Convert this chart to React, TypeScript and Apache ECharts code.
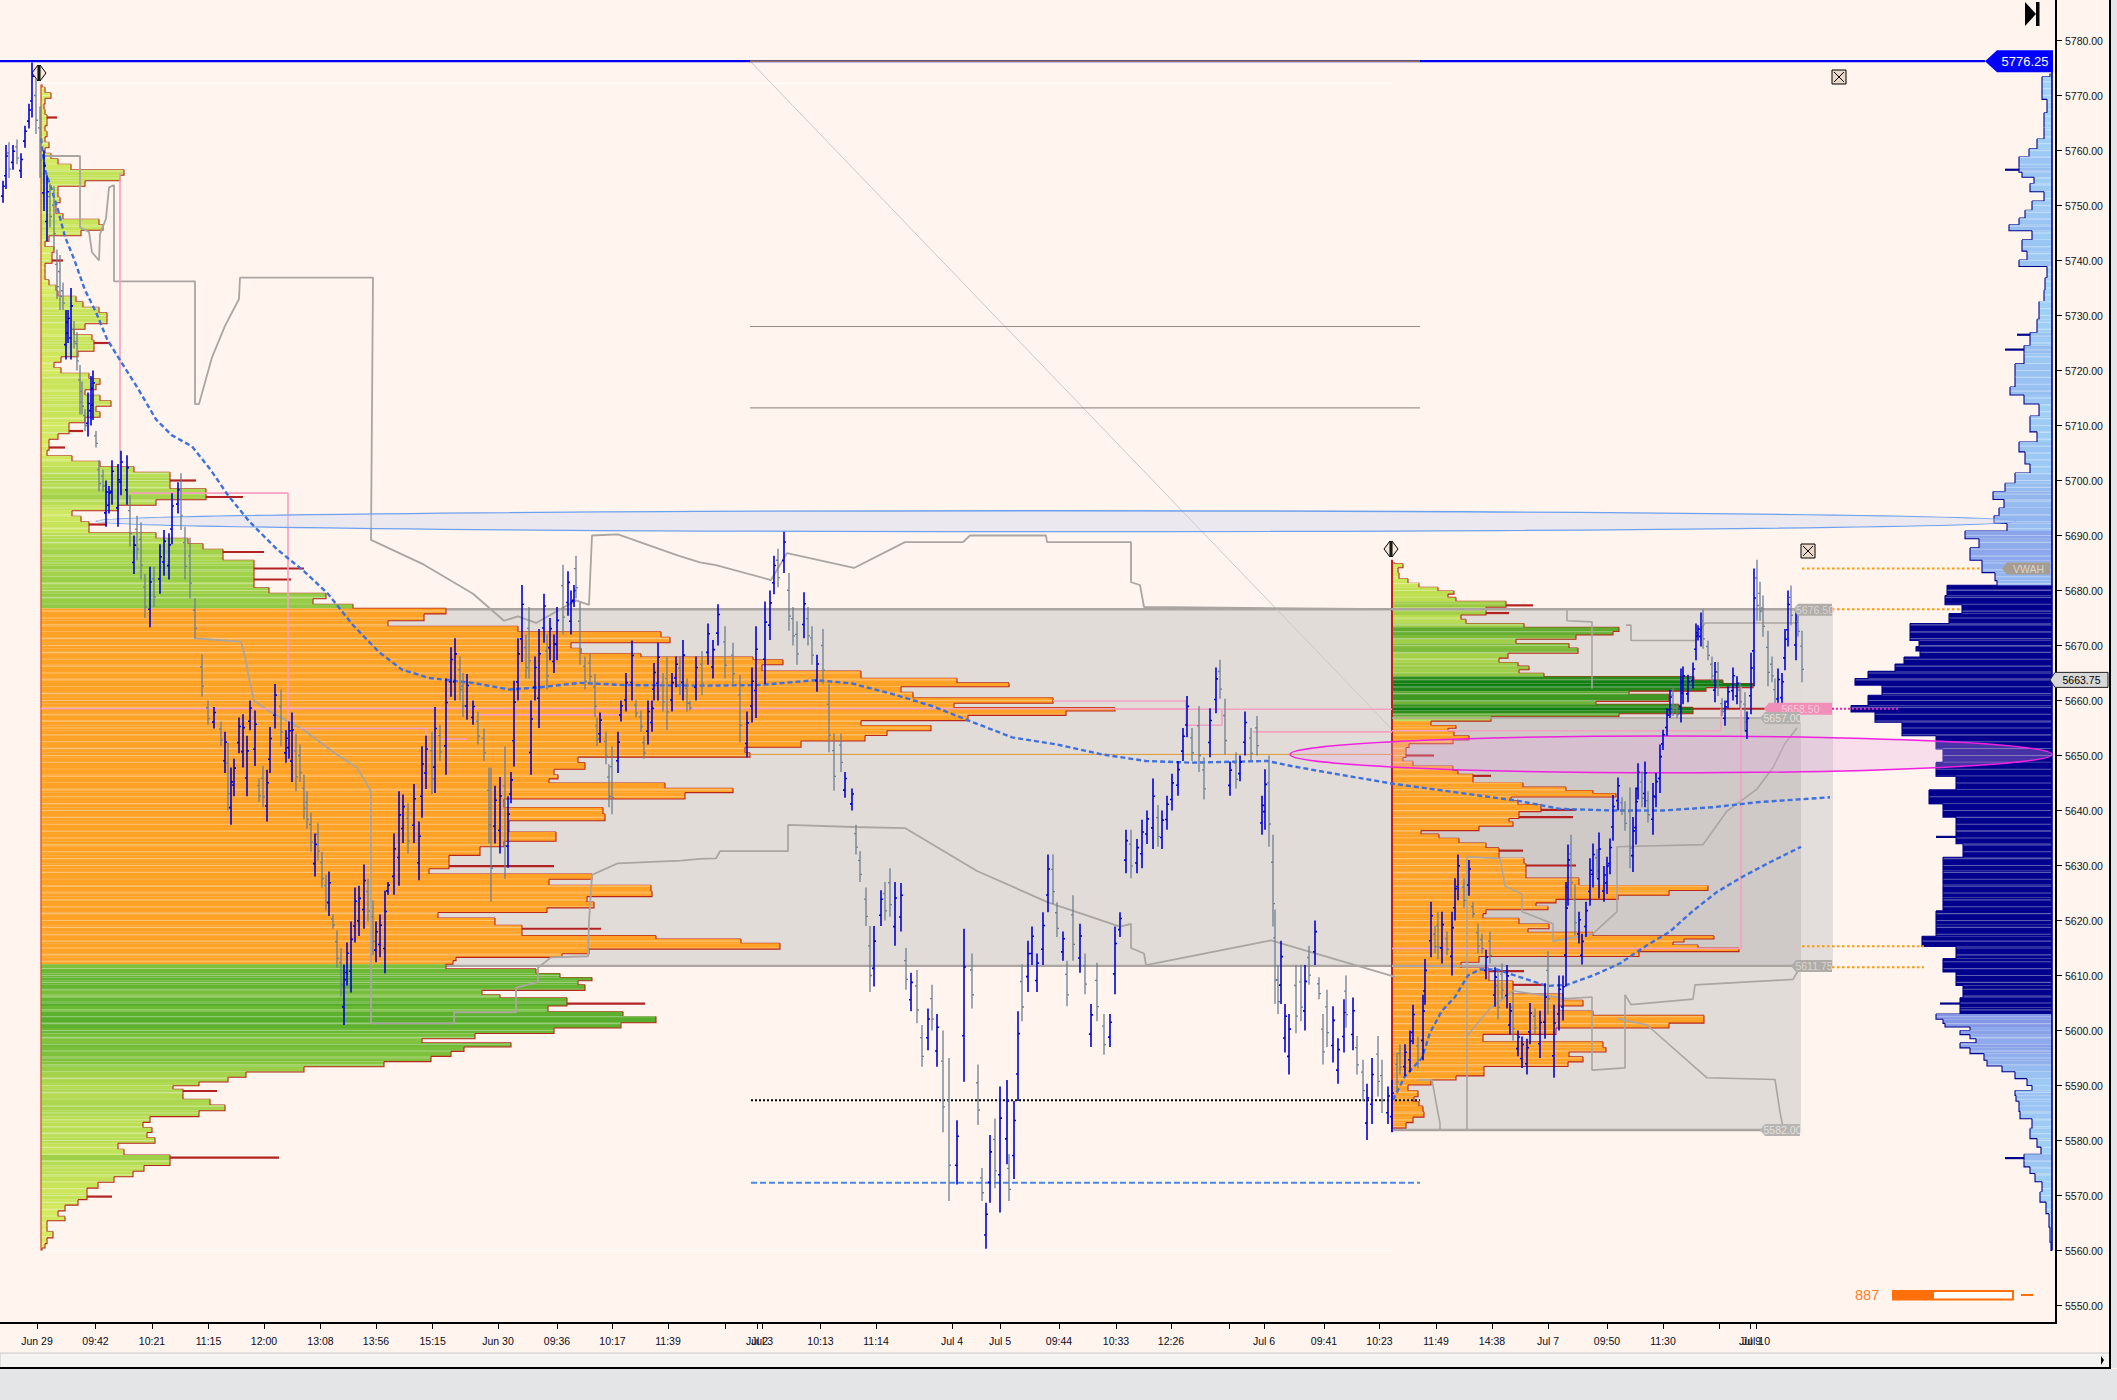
import React, { useEffect, useRef } from "react";
import * as echarts from "echarts";

// ---- axis values
const priceTicks = [5550,5560,5570,5580,5590,5600,5610,5620,5630,5640,5650,5660,5670,5680,5690,5700,5710,5720,5730,5740,5750,5760,5770,5780];
const timeTickSlots = [37,95.5,152,208.5,264,320.5,376,432.6,498,557,612.5,668,725,757,762,820.5,876,952,1000,1059,1116,1171,1229,1264,1324,1379.5,1436,1492,1548,1607,1663,1719,1750,1756];
const timeLabelSlots = [37,95.5,152,208.5,264,320.5,376,432.6,498,557,612.5,668,757,762,820.5,876,952,1000,1059,1116,1171,1264,1324,1379.5,1436,1492,1548,1607,1663,1756];
const timeLabels = ["Jun 29","09:42","10:21","11:15","12:00","13:08","13:56","15:15","Jun 30","09:36","10:17","11:39","Jul 2","Jul 3","10:13","11:14","Jul 4","Jul 5","09:44","10:33","12:26","Jul 6","09:41","10:23","11:49","14:38","Jul 7","09:50","11:30","Jul 10"];
const crowdedTimeLabel = [1750, "Jul 9"];

// ---- OHLC bars: [time slot, high, low, up(1)/down(0)]
const barsJun29 = [
[3,5754.5,5750.5,1],[6,5761,5753,1],[9,5761.5,5755,0],[13,5761,5756.5,1],[17,5762,5757.5,0],[21,5759.5,5755,1],[25,5764.5,5760.5,1],[29,5768.5,5764,1],[32,5776,5766,1],[36,5773,5763,0],[40,5768,5755,0],[44,5760,5749,1],[47,5755.5,5743.5,1],[50,5754,5746,0],[54,5753.5,5742,0],[57,5742,5733,0],[60,5741,5731,0],[63,5736,5731,0],[66,5731,5722,1],[68,5731,5725,1],[71,5735,5722,1],[74,5729,5724,0],[77,5727,5720,0],[80,5721,5712,0],[82,5718,5712,0],[85,5713,5709,0],[88,5716,5708,1],[91,5719,5710,1],[93,5720,5711,1],[96,5709,5706,0],
[99,5703.7,5698,0],[103,5702,5698,0],[106,5700,5691.6,1],[109,5699,5694,1],[112,5703.7,5695.6,1],[118,5703,5691.6,1],[121,5705.4,5697.3,1],[127,5704.6,5695.6,1],[130,5697.3,5688,0],[134,5690,5683,1],[137,5693.6,5685.5,0],[141,5692.4,5682,0],[145,5683,5675,0],[150,5684.3,5673.3,1],[154,5684.3,5677,0],[160,5688.4,5679.4,1],[164,5691,5682.7,1],[169,5690.4,5682,1],[172,5697.7,5688.4,1],[178,5699.7,5694,1],[181,5701.3,5691,0],[185,5691.6,5682,0],[190,5689.6,5678.6,0],[195,5678.6,5671.3,0],[202,5668.4,5660.7,0],
[208,5660,5655.6,0],[214,5658.8,5654.9,1],[221,5656.2,5651.7,0],[225,5654.3,5646.8,1],[228,5652.3,5640,0],[231,5647.8,5637.4,1],[234,5649.4,5642.6,1],[239,5656.9,5650.4,1],[243,5657.5,5647.8,1],[247,5653.6,5642.6,1],[250,5660,5654.6,1],[255,5658.2,5648.1,1],[259,5645.8,5641.6,0],[263,5648.1,5640.6,0],[267,5647.4,5638,1],[270,5655.2,5646.8,1],[275,5663,5654.9,1],[281,5662,5651.7,0],[286,5654.6,5648.7,1],[289,5656.2,5649.4,1],[292,5657.8,5645.2,1],[296,5653.9,5643.5,0],[300,5652,5645.2,0],[304,5646.5,5638.4,0],[307,5643.5,5636.7,0],[311,5639.6,5632.5,0],[315,5635.8,5628,1],[318,5637.7,5630.9,0],[322,5632.5,5626,0],[326,5628.3,5621.8,0],[329,5628.9,5620.8,1],[333,5621.1,5618.5,0],[337,5618.2,5611.4,0],[341,5615,5606.2,0],[344,5612,5601,1],[347,5616,5608.2,1],[351,5619.8,5606.9,1],[355,5626,5616,1],[359,5626.3,5617.2,1],[364,5630.2,5618.5,1],[368,5627.6,5619.8,0],[373,5623.7,5613.7,0],[376,5619.8,5612.4,1],[380,5621.1,5613.3,1],[385,5625.4,5610.4,1],[388,5627,5624.7,1],[394,5635.8,5624.7,1],[399,5643.5,5626.3,1],[403,5642.9,5634.1,1],[408,5641.3,5632.2,0],[414,5644.8,5634.1,1],[419,5638,5627.3,1],[422,5651.7,5638.7,1],[426,5653.6,5643.9,1],[432,5654.3,5642.9,0],[435,5658.8,5643.2,1],[440,5655.6,5649,0],[446,5664,5646.5,1],[451,5669.7,5660.7,1],[455,5671.3,5660,1],[460,5668,5660,0],[463,5665,5657,0],[467,5664.8,5656.5,1],[473,5660,5655.6,1],[478,5658,5652,0],[484,5654.9,5649,0]];
const barsJun30 = [
[489,5647.8,5634,0],[491,5647.8,5623.4,0],[495,5644.5,5634,1],[500,5646.1,5632.2,1],[505,5651.7,5627.6,0],[508,5642.6,5629.6,1],[511,5647,5641.3,1],[514,5663.6,5648,1],[518,5671.3,5660,1],[522,5681,5667,1],[526,5672,5664,0],[529,5677,5664,0],[531,5660,5646.5,1],[535,5668,5660,1],[539,5673,5655,1],[544,5679.4,5670.5,1],[547,5672,5662,0],[550,5675,5667.3,1],[554,5672,5665,1],[557,5677,5667.3,1],[563,5684.7,5672,0],[568,5683.5,5675.4,1],[571,5680,5672,1],[574,5681,5677,1],[576,5686.3,5678.6,0],[580,5677.8,5666.5,0],[585,5668,5662,0],[590,5668.5,5663,0],[595,5664.8,5657,0],[597,5656.9,5651.7,0],[600,5657.8,5652.3,1],[606,5654.3,5648.4,0],[609,5648.4,5640.6,0],[612,5651.7,5639.3,0],[618,5654.3,5646.8,1],[621,5660,5656.2,1],[626,5665,5658,1],[632,5670.9,5660,1],[636,5660.1,5656.9,0],[641,5658.2,5654.3,0],[644,5653.6,5649.4,0],[648,5660,5652,1],[652,5660,5654.3,1],[654,5666.8,5660,1],[658,5670.5,5660,1],[663,5665,5658,0],[667,5668,5654.6,0],[672,5665,5658,1],[676,5668,5662.4,1],[680,5668,5661,0],[683,5671,5660,1],[687,5664,5658,0],[690,5660,5658.2,0],[696,5668,5660,1]];
const barsJul3 = [
[702,5669,5661,0],[708,5674,5666.5,1],[713,5671,5664,1],[718,5677.5,5670,1],[725,5673.5,5664,0],[733,5670.5,5663,0],[740,5664.7,5652.4,0],[747,5658,5649.7,1],[752,5666,5656,1],[756,5673.5,5656.8,1],[765,5678,5663,1],[770,5680,5671,1],[774,5686.3,5679.3,1],[778,5687.6,5680.6,0],[784,5690.7,5683.2,1],[789,5683.2,5672.7,0],[793,5677,5670,0],[797,5674.4,5666.5,0],[804,5679.7,5671.3,1],[808,5677,5670,0],[812,5673.5,5666.5,0],[817,5668.3,5661.6,1],[823,5673,5663,0],[829,5663,5650.6,0],[834,5654,5643.6,0],[841,5654,5647,0],[845,5647,5642.3,1],[852,5644,5640,1],[856,5637.4,5632,0],[860,5632.6,5627,0],[866,5626,5619,0],[870,5619,5607,0],[874,5619,5608,1],[881,5625.5,5619,1],[885,5627,5620,0],[890,5629.5,5620.7,0],[895,5627,5615.4,1],[901,5626.8,5618,1],[906,5615,5607.4,0],[911,5610.5,5603.5,1],[917,5611,5601.3,0],[922,5601,5593.4,0],[928,5604,5596.4,1],[932,5608.3,5600,0],[937,5603,5593.4,1],[943,5600,5581.5,0],[949,5595,5569,0]];
const barsJul4 = [
[957,5583.7,5572,1],[964,5618.5,5590.7,1],[972,5614,5604,0],[978,5593.8,5582.8,0],[982,5575,5569,0],[986,5568.7,5560.3,1],[990,5581,5568.7,1],[995,5584,5571.3,0],[1000,5589.8,5566.9,1],[1007,5591,5575.7,1],[1009,5577.5,5569,0],[1014,5587.2,5573,1],[1018,5603.5,5587.2,1],[1022,5612,5601.7,0],[1028,5616.3,5607,1],[1032,5618.9,5611.9,1],[1037,5614,5607,1],[1043,5621.5,5611.9,1],[1048,5632,5621.5,1],[1053,5632,5623,0],[1057,5623.3,5617,0],[1063,5618,5612.7,1],[1067,5612.7,5604.4,0],[1073,5624.6,5612.7,0],[1080,5619.4,5610.5,1],[1085,5614,5606.6,0],[1091,5604.8,5597,1],[1097,5612.3,5601.7,0],[1104,5603,5595.6,0],[1110,5603,5597,1],[1115,5618.9,5606.6,1],[1120,5621.5,5617,1],[1126,5636.5,5628.6,1],[1131,5636.5,5627.7,0],[1137,5634.8,5628.6,1],[1142,5638.3,5629.5,1],[1147,5640,5633.9,1],[1153,5645.8,5633,1],[1158,5641,5633.4,0],[1162,5640,5633,1],[1167,5642.7,5636.5,1],[1172,5646.7,5640,1],[1178,5649,5642.7,1],[1183,5655,5649,1],[1187,5660.8,5653.3,1],[1192,5655,5649,0],[1199,5659,5647,0],[1204,5649.7,5642,0],[1210,5658.6,5649.7,1],[1216,5666,5657.7,1],[1220,5667.4,5660.3,0],[1225,5660.3,5650.2,0],[1230,5648.9,5642.7,1],[1236,5650.6,5644,0],[1240,5650,5645.3,1],[1245,5658,5650,1],[1251,5655,5648.9,0],[1257,5657.2,5650,0],[1262,5642.7,5635.6,1],[1265,5647.5,5636.5,1]];
const barsJul6 = [
[1269,5650,5633.4,0],[1273,5635.6,5618.9,0],[1275,5622,5604.8,0],[1278,5611.9,5603,0],[1281,5616.3,5604.8,1],[1285,5604.8,5596,1],[1289,5603,5592,1],[1296,5611.9,5599.5,0],[1301,5611.9,5601.7,0],[1305,5611.9,5600,1],[1309,5615.4,5608.3,0],[1315,5620,5611.9,1],[1319,5609.7,5605.7,0],[1323,5603,5593.8,0],[1327,5607.4,5597,0],[1333,5604.4,5594.2,1],[1338,5598.6,5590.3,1],[1344,5605.7,5596,1],[1346,5610,5600.5,0],[1353,5606,5596.4,1],[1357,5599,5592,0],[1363,5594.7,5587.2,0],[1367,5590.3,5580.1,1],[1372,5595,5583,1],[1378,5599,5588,0],[1382,5594.7,5585,0],[1388,5589.8,5583,1],[1392,5591,5581.5,1],
[1397,5596,5588.8,0],[1400,5597.5,5592,0],[1405,5597.5,5591.7,1],[1410,5600,5592.4,1],[1413,5604.7,5597.5,1],[1418,5598.9,5593.2,0],[1423,5606.5,5594.6,1],[1425,5613,5604.7,1],[1431,5623.4,5613.3,1],[1435,5619,5614,0],[1438,5621.6,5613,0],[1442,5621.6,5612.2,1],[1447,5618,5613.7,0],[1452,5621.6,5610,1],[1455,5627.7,5620,1],[1458,5632,5623.7,1],[1464,5627.7,5622.3,0],[1469,5631,5624.5,1],[1473,5623.4,5620.5,0],[1478,5619.4,5614,0],[1482,5617.6,5614,0],[1486,5614.7,5609.3,1],[1490,5618,5612.2,0],[1495,5611.5,5604.3,1],[1498,5610.8,5602,0],[1502,5612.2,5605.7,0],[1507,5611.9,5604,1],[1510,5605,5599.3,1],[1513,5606.8,5598.2,0],[1518,5600,5595.3,1],[1522,5598.9,5593.2,1],[1527,5598.5,5592,1],[1530,5605,5597.5,1],[1535,5604,5599.3,0],[1540,5603.6,5595,1],[1545,5608.6,5598.5,1],[1548,5614.4,5602.9,0],[1554,5604.7,5591.4,1],[1559,5610,5600,1],[1563,5610,5601.8,1]];
const barsJul7 = [
[1566,5627,5608,1],[1568,5633.8,5622.7,1],[1571,5635.6,5624,0],[1575,5626.6,5617.3,0],[1579,5621.6,5615.8,1],[1582,5617.6,5612,1],[1586,5623.4,5617,1],[1590,5631.3,5622.7,1],[1593,5634,5626,1],[1597,5633,5627.7,0],[1599,5636,5624,1],[1604,5629.9,5623.4,1],[1607,5631.6,5624.8,1],[1610,5634.9,5628.4,1],[1613,5642.8,5634.5,1],[1618,5646,5640,1],[1622,5642.4,5639.2,0],[1625,5641.7,5636.3,0],[1630,5644.2,5629.5,0],[1633,5638.8,5628.8,1],[1636,5644.2,5633.8,1],[1638,5648.6,5642,1],[1642,5647.1,5640.6,0],[1645,5648.9,5640.6,1],[1648,5643.5,5637.8,0],[1653,5645,5635.6,1],[1656,5646.8,5640.6,1],[1660,5652,5643.2,1],[1663,5654.7,5651,1],[1667,5658.6,5653.6,1],[1670,5661.9,5656.8,1],[1673,5662.6,5657.2,0],[1677,5659.3,5656.8,0],[1681,5665.8,5656,1],[1683,5666.2,5659.3,1],[1688,5664.7,5659.7,1],[1693,5666.9,5662.2,1],[1696,5674,5667.3,1],[1698,5673.7,5670.9,1],[1701,5676,5669.8,1],[1703,5676.6,5669.4,0],[1708,5670.9,5667.3,0],[1712,5668,5663.3,0],[1715,5667,5659.7,1],[1718,5667,5660.8,0],[1722,5660.4,5657.2,0],[1725,5660,5655.4,1],[1728,5662.6,5658.6,1],[1733,5666,5660,1],[1737,5664.4,5659.3,1],[1740,5663.3,5658.6,0],[1745,5661.5,5654.3,0],[1747,5658,5653,1],[1751,5668.7,5657.5,1],[1754,5684,5662.6,1],[1757,5685.6,5674.5,0],[1760,5681.6,5674.5,0],[1763,5679.1,5671.6,0],[1768,5672.7,5662.6,0],[1772,5668,5663.3,0],[1775,5664,5657.2,0],[1778,5665.8,5657.9,1],[1782,5665,5658.6,1],[1785,5673,5665.5,1],[1788,5680,5669.8,1],[1791,5680.9,5673.7,0],[1796,5676.6,5667.3,1],[1798,5675.5,5671.6,0],[1802,5672.7,5663.3,0]];

// ---- volume profiles: [price, width]
const profileJun29 = [
[5772,1],[5771,4],[5770,10],[5769,4],[5768,3],[5767,4],[5766,16],[5765,6],[5764,4],[5763,6],[5762,4],[5761,8],[5760,4],[5759,10],[5758,17],[5757,30],[5756,83],[5755,79],[5754,44],[5753,17],[5752,17],[5751,19],[5750,15],[5749,15],[5748,22],[5747,58],[5746,62],[5745,40],[5744,8],[5743,4],[5742,13],[5741,11],[5740,22],[5739,4],[5738,4],[5737,4],[5736,8],[5735,15],[5734,17],[5733,35],[5732,42],[5731,58],[5730,66],[5729,66],[5728,44],[5727,33],[5726,51],[5725,69],[5724,53],[5723,37],[5722,20],[5721,13],[5720,20],[5719,48],[5718,59],[5717,55],[5716,44],[5715,59],[5714,70],[5713,55],[5712,59],[5711,44],[5710,28],[5709,42],[5708,17],[5707,8],[5706,24],[5705,6],[5704,31],[5703,59],[5702,93],[5701,129],[5700,155],[5699,129],[5698,165],[5697,202],[5696,115],[5695,77],[5694,31],[5693,40],[5692,66],[5691,48],[5690,115],[5689,147],[5688,162],[5687,223],[5686,182],[5685,213],[5684,263],[5683,213],[5682,250],[5681,213],[5680,228],[5679,285],[5678,272],[5677,312],
[5676.5,405],[5675,383],[5674,347],[5673,477],[5672,620],[5671,629],[5670,530],[5669,540],[5668,600],[5667.8,712],[5667,742],[5666,721],[5664.7,820],[5663.4,916],[5663,968],[5662,860],[5661,872],[5660,1012],[5659,913],[5658.4,1074],[5657.8,1025],[5656.8,927],[5655.9,820],[5655,890],[5654,846],[5653.3,824],[5652,760],[5651,704],[5650,709],[5649.4,537],[5648,544],[5647,513],[5646,517],[5645.5,508],[5644.5,624],[5643.6,692],[5642.9,644],[5641.3,463],[5639.8,562],[5638.9,564],[5637.4,468],[5634.8,515],[5634,463],[5632.8,439],[5630.9,408],[5629.9,513],[5628.9,388],[5628,551],[5627,508],[5625.8,610],[5624.8,611],[5623.9,546],[5622.8,553],[5621.8,506],[5621.1,397],[5619.8,454],[5618.5,560],[5617.6,481],[5616.9,615],[5616.4,700],[5615.3,739],[5614.3,548],[5613.6,521],[5613,415],[5612.4,412],
[5611.7,405],[5610.7,495],[5610,519],[5609.3,551],[5608.8,537],[5607.8,544],[5606.8,441],[5606.2,459],[5605.7,526],[5604.9,604],[5604,507],[5602.8,582],[5602.3,615],[5601.9,615],[5600.9,580],[5600,513],[5598.9,434],[5598.1,381],[5597.4,470],[5596.6,423],[5595.8,410],[5594.8,390],[5593.9,343],[5592.9,263],[5592,205],[5591,187],[5590.3,158],[5589.6,132],[5589,176],[5588,142],[5587,169],[5585.9,184],[5584.9,158],[5583.8,109],[5582.8,102],[5581.9,111],[5581,106],[5580,114],[5579,77],[5577.8,83],[5576.9,238],[5576,129],[5574.9,103],[5573.9,92],[5572.9,73],[5571.9,57],[5570.8,46],[5569.8,71],[5568.7,37],[5567.8,24],[5566.6,17],[5565.8,24],[5565,6],[5564,6],[5562.9,12],[5561.7,6],[5560.8,4],[5560.1,1]];
const profileJul6 = [
[5685.2,2],[5684.5,11],[5683.8,6],[5682.7,7],[5681.6,16],[5681,27],[5680.2,46],[5679.6,62],[5679.1,56],[5678.4,64],[5677.7,114],[5677.3,141],[5676.6,94],[5675.9,117],[5675.2,69],[5674.3,74],[5673.7,132],[5672.9,227],[5672.2,221],[5671.6,184],[5670.7,124],[5670,177],[5669.1,186],[5668.1,116],[5667.3,107],[5666.5,126],[5666,137],[5665.2,127],[5664.7,152],[5664,302],[5663.4,331],[5662.8,361],[5661.9,314],[5661.5,237],[5660.8,277],[5660.1,277],[5659.6,204],[5659,287],[5658.5,407],[5657.9,301],[5657.3,227],[5656.8,99],
[5655.7,39],[5655.2,64],[5654.7,56],[5654,62],[5653.2,77],[5652.5,61],[5651.8,17],[5651.1,14],[5650,42],[5649.3,11],[5648.6,21],[5647.6,61],[5646.9,66],[5646.3,99],[5645.5,81],[5644.6,131],[5643.9,174],[5643.4,201],[5642.8,224],[5642.1,119],[5641.4,126],[5640.8,149],[5640.1,184],[5639.5,127],[5638.8,181],[5638.3,117],[5637.6,121],[5636.7,87],[5636,29],[5635.4,47],[5634.5,67],[5633.7,94],[5632.7,131],[5631.9,107],[5630.7,132],[5630,184],[5629,134],[5628.1,134],[5627.3,187],[5626.8,187],[5625.9,316],[5625,277],[5624.2,226],[5623.5,164],[5622.9,144],[5622.3,156],[5621.6,94],[5620.9,91],[5619.9,127],[5618.8,157],[5618.2,136],[5617.5,201],[5616.9,322],[5616.4,292],[5615.8,281],[5615.3,306],[5614.7,347],[5614,247],[5612.9,87],[5611.9,69],[5610.8,132],[5609.7,97],[5608.3,151],[5607.2,121],[5606.1,171],[5604.9,191],[5604,167],[5603.1,201],[5602.4,312],[5601.8,312],[5600.9,277],[5600,164],[5598.6,91],[5597.3,211],[5596.5,214],[5595.7,177],[5594.7,191],[5593.9,176],[5593,92],[5592.1,92],[5591.4,64],[5590.6,39],[5589.6,16],[5588.5,26],[5587.4,22],[5586.7,27],[5585.8,31],[5584.7,32],[5583.8,21],[5582.7,14],[5581.8,1]];
const profileComposite = [
[5774,2],[5772.8,10],[5770.3,10],[5768.3,5],[5765.4,8],[5763,8],[5761.2,15],[5759.4,23],[5758.3,33],[5757.2,33],[5756.5,47],[5755.6,30],[5754.7,18],[5753.3,22],[5751.7,8],[5749.9,20],[5748.4,27],[5747,33],[5746,43],[5744.8,20],[5742.7,30],[5740.7,25],[5739.5,33],[5738.3,5],[5735.4,7],[5733.8,8],[5731.3,13],[5727.3,15],[5726.5,35],[5725.3,22],[5723.8,47],[5722.4,28],[5720,37],[5717.6,37],[5716.4,42],[5714.7,28],[5713.1,13],[5710.3,22],[5707.4,15],[5706.6,33],[5703.8,27],[5702.2,22],[5700.5,37],[5698.5,47],[5697.5,59],[5695.6,48],[5694.4,53],[5692.8,58],[5691.6,45],[5690,87],[5688.8,73],[5686.7,82],[5684.3,70],[5682.2,57],[5681.4,55],
[5680.5,105],[5680,105],[5678.2,107],[5676.6,90],[5675,103],[5673,142],[5671.7,142],[5670.1,133],[5669.5,136],[5668.5,132],[5667.3,148],[5666,157],[5664.6,184],[5663.4,197],[5662.2,170],[5659.7,184],[5658.5,201],[5657.3,177],[5654.8,150],[5652.4,116],[5650,109],[5647.5,116],[5645,96],[5642.5,123],[5640,109],[5637.6,96],[5635.2,116],[5632.7,89],[5630.3,109],[5627.8,109],[5625.4,109],[5623,109],[5620.5,116],[5618,116],[5616.3,130],[5614.3,96],[5611.9,109],[5609.4,96],[5607,89],[5604.9,112],[5603.5,92],
[5602.5,116],[5601.6,109],[5601,107],[5600.3,82],[5599.7,92],[5598.8,82],[5598.2,76],[5597.3,92],[5596.4,82],[5595.2,68],[5594,65],[5593.1,50],[5591.9,37],[5590.6,25],[5589.4,20],[5588.8,37],[5587.6,36],[5586.7,33],[5585.8,33],[5584.8,32],[5583.1,20],[5581.3,22],[5579.4,15],[5578.2,11],[5576.8,47],[5575.8,28],[5574.6,22],[5573.4,17],[5571.6,10],[5569.7,12],[5567.9,6],[5565.5,3],[5563,2],[5560,1]];

// ---- indicator lines: [time slot, price]
const vwapJun29 = [[41,5762.2],[45,5756.5],[51,5753.3],[58,5749.2],[65,5744.3],[74,5740.3],[85,5734.6],[96,5730.6],[107,5725.7],[121,5721.6],[138,5716.7],[156,5711.1],[172,5708.2],[192,5706.2],[210,5702.1],[228,5697.3],[250,5692.4],[277,5687.5],[304,5683.5],[328,5679.4],[353,5673.7],[379,5668.8],[402,5665.6],[429,5664.1],[473,5663.2],[509,5662],[540,5662.4],[580,5663.2],[625,5662.8],[700,5662.7],[758,5662.8],[816,5663.7],[852,5663.1],[892,5661.2],[932,5659],[968,5656.4],[1012,5653.3],[1057,5652],[1102,5650.2],[1146,5649],[1191,5648.7],[1267,5649],[1294,5648],[1334,5646.7],[1392,5644.9],[1520,5641.7],[1560,5640.3],[1613,5640],[1663,5640],[1713,5640.6],[1757,5641.5],[1830,5642.4]];
const vwapJul6 = [[1393,5587.4],[1405,5591.7],[1422,5595],[1430,5599.6],[1442,5603.6],[1455,5606.1],[1468,5610],[1480,5611.1],[1497,5611.1],[1520,5609.7],[1547,5608.1],[1567,5608.3],[1593,5610],[1620,5612.2],[1647,5615.5],[1670,5618],[1692,5621.6],[1717,5625.2],[1743,5628],[1770,5630.6],[1801,5633.4]];
const bandUpperA = [[45,5759],[80,5759],[80,5746],[89,5745.2],[92,5741.5],[99,5740],[100,5744.8],[106,5747.6],[109,5753.3],[114,5753.7],[114,5736.2],[195,5736.2],[195,5713.9],[199,5713.9],[212,5722.4],[225,5728.1],[239,5733],[240,5736.9],[373,5736.9],[371,5689.2],[424,5684.7],[473,5679.4],[504,5674.5],[518,5675.3],[536,5674.1],[576,5678.2],[589,5677.4],[592,5690],[618,5690.2],[679,5686.3],[700,5685.1],[716,5684.6],[771,5681.9],[787,5686.8],[854,5684.1],[905,5688.8],[963,5688.8],[970,5690],[1046,5690],[1047,5688.8],[1131,5688.8],[1131,5681.5],[1140,5681],[1144,5677],[1392,5676.6]];
const bandLowerA = [[194,5671.3],[241,5670.7],[245,5668],[250,5663.2],[254,5660],[268,5658.2],[304,5654.6],[335,5650.4],[357,5647.8],[371,5643.5],[371,5601.3],[454,5601.3],[454,5603.3],[516,5603.3],[516,5607.8],[538,5608.8],[538,5611.4],[551,5613.3],[588,5613.5],[589,5619.8],[592,5628.3],[618,5630.4],[681,5630.9],[700,5631.2],[716,5631.3],[720,5632.6],[788,5632.6],[788,5637.4],[854,5637],[905,5636.8],[977,5629],[1048,5623.3],[1120,5618.9],[1131,5619.4],[1131,5615],[1144,5614],[1146,5611.9],[1271,5616.4],[1396,5609.7]];
const bandUpperB = [[1490,5676.6],[1567,5676.6],[1567,5674.5],[1592,5674.3],[1592,5662.2]];
const bandUpperC = [[1626,5673.7],[1631,5673.7],[1631,5670.9],[1695,5670.9],[1705,5674.1],[1797,5674.1],[1797,5676.6]];
const bandLowerB = [[1440,5581.8],[1440,5583.1],[1437,5586],[1432,5591],[1417,5591]];
const bandLowerC = [[1467,5581.8],[1467,5631.6],[1500,5631.3],[1505,5626.3],[1522,5624.8],[1522,5621.6],[1553,5619.4],[1553,5616.2],[1593,5617.6],[1617,5621.6],[1617,5633.4],[1703,5633.8],[1727,5639.9],[1757,5643.9],[1773,5647.8],[1785,5652.2],[1797,5655]];
const bandLowerD = [[1467,5599],[1490,5604],[1513,5607.2],[1567,5605.8],[1592,5606.1],[1592,5592.8],[1625,5593.2],[1625,5606.5],[1631,5604.7],[1693,5605.7],[1695,5608.3],[1793,5609.3],[1800,5611.5]];
const bandLowerE = [[1617,5602.2],[1647,5601],[1707,5591.4],[1775,5591.1],[1780,5585.2],[1783,5582.4]];
const diagonalLine = [[750,5776.25],[1396,5654]];
const pinkSegments = [
[[120,5756],[120,5697]],[[130,5697.7],[288,5697.7],[288,5653]],[[41,5658.5],[1186,5658.5]],[[480,5657.4],[625,5657.4]],[[299,5654.9],[426,5654.9],[426,5653]],[[440,5653],[467,5653]],[[1053,5659.9],[1186,5659.9],[1186,5655.5],[1222,5655.5],[1222,5658.4]],[[1115,5658.4],[1392,5658.4]],[[1253,5654.3],[1392,5654.3]],[[1392,5654.5],[1721,5654.5],[1721,5658.5]],[[1741,5662.5],[1741,5614.9],[1392,5614.9]]];
// [from slot, to slot, price]
const levelTop = [0,1985,5776.25];
const levelTopOrange = [750,1420,5776.25];
const levelGreyUpper = [750,1420,5728.0];
const levelGreyLower = [750,1420,5713.2];
const levelBlackDots = [751,1420,5587.3];
const levelBlueDash = [751,1420,5572.3];
const levelOrangeThin = [751,1392,5650.2];
const levelBoxTop = [[340,1392,5676.6],[1392,1800,5676.6]];
const levelBoxBottom = [[446,1392,5611.75],[1392,1800,5611.75],[1392,1800,5581.9],[1392,1800,5656.8]];
const levelOrangeDots = [[1802,1980,5684],[1802,1960,5676.6],[1802,1924,5615.3],[1802,1924,5611.5]];
const levelMagentaDots = [1800,1900,5658.5];
// shaded boxes: [from slot, to slot, upper price, lower price]
const boxJun29 = [41,1392,5676.6,5611.75];
const boxJul6Upper = [1392,1801,5676.6,5656.8];
const boxJul6Mid = [1392,1801,5656.8,5611.75];
const boxJul6Lower = [1392,1801,5611.75,5581.9];
const boxJul6Right = [1801,1833,5676.6,5611.75];
// [centre slot, centre price, slot radius, price radius]
const ellipseBlue = [1056,5692.6,960,1.9];
const ellipseMagenta = [1671,5650.2,381,3.35];
// [price, from slot, to slot, text, fill, text colour]
const priceTags = [
[5776.25,1985,2053,"5776.25","#0000ff","#ffffff"],
[5684,2002,2050,"VWAH","#a69c90","#d8d4d0"],
[5676.5,1793,1832,"5676.50","#b0aca8","#d8d4d0"],
[5658.5,1764,1832,"5658.50","#f090b8","#f8c8d8"],
[5656.8,1760,1800,"5657.00","#b4b0ae","#e4e0de"],
[5611.75,1791,1832,"5611.75","#b0aca8","#d8d4d0"],
[5581.9,1760,1800,"5582.00","#b8b4b2","#e4e0de"],
[5663.75,2050,2108,"5663.75","#d8d8d8","#000000"]];
const orderValue = "887";

const W = 2117, H = 1400, PLOT_R = 2056, PLOT_B = 1323;
const P_TOP = 5780 + 40.5 / 5.5, P_BOT = 5780 - (PLOT_B - 40.5) / 5.5;
const BG = "#fff5ee";

function hex(c: string) { return [1,3,5].map((i) => parseInt(c.slice(i, i + 2), 16)); }
function mix(a: string, b: string, t: number) {
  const x = hex(a), y = hex(b);
  return "rgb(" + x.map((v, i) => Math.round(v + (y[i] - v) * Math.min(1, Math.max(0, t)))).join(",") + ")";
}
function tintOf(c: string) {
  const rgb = c[0] === "#" ? hex(c) : (c.match(/\d+/g) || []).map(Number);
  return "rgb(" + rgb.map((v) => Math.round(v + (255 - v) * 0.36)).join(",") + ")";
}

function profileSeries(rows: number[][], base: number, dir: number, fillOf: (p: number, w: number) => string, edge: string, spike: string, z: number) {
  const body = rows.map((r, i) => {
    const a = rows[i - 1] ? rows[i - 1][1] : 0, b = rows[i + 1] ? rows[i + 1][1] : 0;
    const n = Math.max(a, b);
    return r[1] > n * 1.12 + 8 ? n : r[1];
  });
  const edgeAt = (i: number) => {
    const up = rows[i - 1] ? (rows[i - 1][0] + rows[i][0]) / 2 : rows[i][0];
    const dn = rows[i + 1] ? (rows[i + 1][0] + rows[i][0]) / 2 : rows[i][0];
    return [up, dn];
  };
  return {
    type: "custom", silent: true, z, clip: true,
    data: rows.map((r, i) => [r[0], r[1], i]),
    renderItem(_p: any, api: any) {
      const i = api.value(2), price = rows[i][0], w = rows[i][1], bw = body[i];
      const [up, dn] = edgeAt(i);
      const x0 = api.coord([base, price])[0];
      const xb = api.coord([base + dir * bw, price])[0];
      const xw = api.coord([base + dir * w, price])[0];
      const yT = api.coord([base, up])[1], yB = api.coord([base, dn])[1], yC = api.coord([base, price])[1];
      const fill = fillOf(price, w);
      const kids: any[] = [{ type: "rect", shape: { x: Math.min(x0, xb), y: yT, width: Math.abs(xb - x0), height: yB - yT }, style: { fill } }];
      const tint = tintOf(fill);
      for (let k = Math.ceil(dn / 1.25); k * 1.25 < up; k++) {
        const ys = api.coord([base, k * 1.25])[1];
        kids.push({ type: "rect", shape: { x: Math.min(x0, xb), y: ys - 0.6, width: Math.abs(xb - x0), height: 1.2 }, style: { fill: tint } });
      }
      const nb = i + 1 < rows.length ? body[i + 1] : 0;
      const xn = api.coord([base + dir * nb, price])[0];
      kids.push({ type: "polyline", shape: { points: [[xb, yT], [xb, yB], [xn, yB]] }, style: { stroke: edge, lineWidth: 1.1, fill: null } });
      if (w !== bw) kids.push({ type: "rect", shape: { x: Math.min(xb, xw), y: yC - 1.1, width: Math.abs(xw - xb), height: 2.2 }, style: { fill: spike } });
      return { type: "group", children: kids };
    },
  };
}

function lineSeries(data: number[][], color: string, width: number, z: number, dash?: any, opacity = 1) {
  return { type: "line", data, showSymbol: false, symbol: "none", silent: true, z, clip: true, animation: false, lineStyle: { color, width, type: dash || "solid", opacity } };
}
function levelSeries(l: number[], color: string, width: number, z: number, dash?: any) {
  return lineSeries([[l[0], l[2]], [l[1], l[2]]], color, width, z, dash);
}
function boxSeries(b: number[], fill: string, z: number) {
  return {
    type: "custom", silent: true, z, data: [b],
    renderItem(_p: any, api: any) {
      const a = api.coord([api.value(0), api.value(2)]), c = api.coord([api.value(1), api.value(3)]);
      return { type: "rect", shape: { x: a[0], y: a[1], width: c[0] - a[0], height: c[1] - a[1] }, style: { fill } };
    },
  };
}
function ellipseSeries(e: number[], fill: string, stroke: string, width: number, z: number) {
  return {
    type: "custom", silent: true, z, data: [e],
    renderItem(_p: any, api: any) {
      const c = api.coord([api.value(0), api.value(1)]);
      const r = api.coord([api.value(0) + api.value(2), api.value(1) + api.value(3)]);
      return { type: "ellipse", shape: { cx: c[0], cy: c[1], rx: r[0] - c[0], ry: c[1] - r[1] }, style: { fill, stroke, lineWidth: width } };
    },
  };
}

const allBars = [...barsJun29, ...barsJun30, ...barsJul3, ...barsJul4, ...barsJul6, ...barsJul7];

function buildOption() {
  const barSeries = {
    type: "custom", silent: true, z: 30, clip: true,
    data: allBars,
    renderItem(_p: any, api: any) {
      const x = api.value(0), hi = api.value(1), lo = api.value(2), up = api.value(3);
      const r = hi - lo;
      const col = up ? "#0000d8" : "#6c7f92";
      const o = up ? lo + r * 0.3 : hi - r * 0.3, c = up ? hi - r * 0.25 : lo + r * 0.25;
      const t = api.coord([x, hi]), b = api.coord([x, lo]);
      const yo = api.coord([x, o])[1], yc = api.coord([x, c])[1];
      const s = { stroke: col, lineWidth: up ? 1.6 : 1.3 };
      return { type: "group", children: [
        { type: "line", shape: { x1: t[0], y1: t[1], x2: b[0], y2: b[1] }, style: s },
        { type: "line", shape: { x1: t[0] - 2, y1: yo, x2: t[0], y2: yo }, style: s },
        { type: "line", shape: { x1: t[0], y1: yc, x2: t[0] + 2, y2: yc }, style: s },
      ] };
    },
  };
  const tagSeries = {
    type: "custom", silent: true, z: 50, clip: false,
    data: priceTags.map((t, i) => [t[1], t[0], t[2], i]),
    renderItem(_p: any, api: any) {
      const t: any = priceTags[api.value(3)];
      const a = api.coord([t[1], t[0]]), b = api.coord([t[2], t[0]]);
      const isCur = t[3] === "5776.25", isLast = t[3] === "5663.75";
      const h = isCur ? 11 : isLast ? 7.5 : 6;
      const n = isCur ? 12 : 5;
      const pts = [[a[0], a[1]], [a[0] + n, a[1] - h], [b[0], a[1] - h], [b[0], a[1] + h], [a[0] + n, a[1] + h]];
      return { type: "group", children: [
        { type: "polygon", shape: { points: pts }, style: { fill: t[4], stroke: isLast ? "#222" : null, lineWidth: 1 } },
        { type: "text", style: { x: (a[0] + n + b[0]) / 2, y: a[1], text: t[3], fill: t[5], font: (isCur ? "13px" : "10.5px") + " 'Liberation Sans'", textAlign: "center", textVerticalAlign: "middle" } },
      ] };
    },
  };
  const crowdedLabelSeries = {
    type: "custom", silent: true, z: 50, clip: false,
    data: [[crowdedTimeLabel[0], P_BOT]],
    renderItem(_p: any, api: any) {
      const c = api.coord([api.value(0), api.value(1)]);
      return { type: "text", style: { x: c[0], y: c[1] + 18, text: crowdedTimeLabel[1], fill: "#0a0a1a", font: "10.5px 'Liberation Sans'", textAlign: "center", textVerticalAlign: "middle" } };
    },
  };

  const p1Fill = (p: number, w: number) => (p >= 5611.75 && p < 5676.6 ? "#ffa226" : mix("#dcee62", "#56ae2c", Math.pow(w / 620, 0.8)));
  const p2Fill = (p: number, w: number) => (p >= 5656.8 ? mix("#cfe858", "#0e7c10", Math.pow(w / 340, 1.4)) : "#ffa226");
  const p3Fill = (p: number, w: number) => (p > 5603 && p < 5681 ? "#00008c" : mix("#a4d8f8", "#8496e6", w / 110));

  const series: any[] = [
    boxSeries(boxJun29, "#e2dcd8", 2),
    boxSeries(boxJul6Upper, "#e2dcd8", 2),
    boxSeries(boxJul6Mid, "#cfcac8", 2),
    boxSeries(boxJul6Lower, "#e2dcd8", 2),
    boxSeries(boxJul6Right, "#e3dedb", 2),
    levelSeries([41, 1392, 5772.2], "#ffffff", 1, 3),
    levelSeries([41, 1392, 5560], "#ffffff", 1, 3),
    levelSeries(levelBoxTop[0], "#aaa5a1", 2.4, 4),
    levelSeries(levelBoxTop[1], "#aaa5a1", 2.4, 12),
    levelSeries(levelBoxBottom[0], "#aaa5a1", 2.4, 4),
    levelSeries(levelBoxBottom[1], "#aaa5a1", 2.4, 12),
    levelSeries(levelBoxBottom[2], "#aaa5a1", 2.4, 12),
    levelSeries(levelBoxBottom[3], "#aaa5a1", 1.5, 12),
    lineSeries(diagonalLine, "#c8c8c8", 1, 4),
    levelSeries(levelGreyUpper, "#9a8a86", 1, 4),
    levelSeries(levelGreyLower, "#8a7a76", 1, 4),
    profileSeries(profileJun29, 41, 1, p1Fill, "#b8261c", "#b22222", 6),
    profileSeries(profileJul6, 1392, 1, p2Fill, "#b8261c", "#b22222", 6),
    profileSeries(profileComposite, 2052, -1, p3Fill, "#00008b", "#00008b", 6),
    lineSeries([[41, 5772], [41, 5560]], "#c84a20", 1.2, 7),
    lineSeries([[1392, 5685.6], [1392, 5581.6]], "#c01e1e", 2, 7),
    lineSeries([[2052, 5775], [2052, 5560]], "#0000a8", 1.6, 7),
    lineSeries(bandUpperA, "#aaa5a1", 1.8, 10),
    lineSeries(bandLowerA, "#aaa5a1", 1.8, 10),
    lineSeries(bandUpperB, "#aaa5a1", 1.6, 10),
    lineSeries(bandUpperC, "#aaa5a1", 1.6, 10),
    lineSeries(bandLowerB, "#aaa5a1", 1.6, 10),
    lineSeries(bandLowerC, "#aaa5a1", 1.6, 10),
    lineSeries(bandLowerD, "#aaa5a1", 1.6, 10),
    lineSeries(bandLowerE, "#aaa5a1", 1.6, 10),
    ...pinkSegments.map((s) => lineSeries(s, "#f4a0c0", 1.6, 14)),
    levelSeries(levelOrangeThin, "#d89a30", 1, 14),
    levelSeries(levelBlackDots, "#000000", 2, 14, [2, 2]),
    levelSeries(levelBlueDash, "#4a86e8", 2, 14, [6, 3]),
    ...levelOrangeDots.map((l) => levelSeries(l, "#ff9a10", 2, 14, [2.5, 2.5])),
    levelSeries(levelMagentaDots, "#f020c0", 2, 14, [2, 2]),
    ellipseSeries(ellipseBlue, "rgba(208,216,240,0.42)", "#6ea0f0", 1.3, 20),
    ellipseSeries(ellipseMagenta, "rgba(232,170,225,0.30)", "#f020e0", 1.5, 20),
    lineSeries(vwapJun29, "#3f70e0", 2.4, 25, [5, 3]),
    lineSeries(vwapJul6, "#3f70e0", 2.4, 25, [5, 3]),
    barSeries,
    levelSeries(levelTop, "#0000f0", 2.2, 40),
    levelSeries(levelTopOrange, "#d09a20", 1.2, 41),
    tagSeries,
    crowdedLabelSeries,
  ];

  const frame = "#000000";
  const iconBox = (x: number, y: number) => ({ type: "group", x, y, silent: true, children: [
    { type: "rect", shape: { x: 0, y: 0, width: 14, height: 14 }, style: { fill: "#ead9c6", stroke: frame, lineWidth: 1 } },
    { type: "line", shape: { x1: 2, y1: 2, x2: 12, y2: 12 }, style: { stroke: frame, lineWidth: 1 } },
    { type: "line", shape: { x1: 12, y1: 2, x2: 2, y2: 12 }, style: { stroke: frame, lineWidth: 1 } },
  ] });
  const iconDiamond = (x: number, y: number) => ({ type: "group", x, y, silent: true, children: [
    { type: "polygon", shape: { points: [[6, 0], [0, 8], [6, 16]] }, style: { fill: "#f4e8da", stroke: frame, lineWidth: 1 } },
    { type: "polygon", shape: { points: [[8, 0], [14, 8], [8, 16]] }, style: { fill: "#f4e8da", stroke: frame, lineWidth: 1 } },
    { type: "line", shape: { x1: 7, y1: 0, x2: 7, y2: 16 }, style: { stroke: frame, lineWidth: 1.6 } },
  ] });
  const chrome = [
    { type: "rect", z: 100, silent: true, shape: { x: 2110, y: 0, width: 7, height: 1368 }, style: { fill: "#e4e5e7" } },
    { type: "line", z: 101, silent: true, shape: { x1: 2110, y1: 0, x2: 2110, y2: 1368 }, style: { stroke: frame, lineWidth: 2 } },
    { type: "rect", z: 100, silent: true, shape: { x: 0, y: 1353, width: 2110, height: 15 }, style: { fill: "#f3f3f2", stroke: "#c8c8c8", lineWidth: 1 } },
    { type: "line", z: 101, silent: true, shape: { x1: 0, y1: 1368, x2: 2111, y2: 1368 }, style: { stroke: frame, lineWidth: 2 } },
    { type: "rect", z: 100, silent: true, shape: { x: 0, y: 1369, width: W, height: 31 }, style: { fill: "#e4e5e7" } },
    { type: "polygon", z: 101, silent: true, shape: { points: [[2101, 1356], [2104, 1360], [2101, 1365]] }, style: { fill: frame } },
    { type: "polygon", z: 101, silent: true, shape: { points: [[2025, 2], [2036, 14], [2025, 26]] }, style: { fill: "#000" } },
    { type: "rect", z: 101, silent: true, shape: { x: 2036, y: 2, width: 3.5, height: 24 }, style: { fill: "#000" } },
    { ...iconDiamond(32, 65), z: 101 },
    { ...iconDiamond(1384, 541), z: 101 },
    { ...iconBox(1832, 70), z: 101 },
    { ...iconBox(1801, 544), z: 101 },
    { type: "text", z: 101, silent: true, style: { x: 1855, y: 1295, text: orderValue, fill: "#ff7f2a", font: "14.5px 'Liberation Sans'", textVerticalAlign: "middle" } },
    { type: "rect", z: 101, silent: true, shape: { x: 1893, y: 1291, width: 120, height: 8.5 }, style: { fill: "#ffffff", stroke: "#ff6f0a", lineWidth: 2 } },
    { type: "rect", z: 102, silent: true, shape: { x: 1892, y: 1290, width: 42, height: 10 }, style: { fill: "#ff6f0a" } },
    { type: "rect", z: 101, silent: true, shape: { x: 2021, y: 1294, width: 12, height: 2 }, style: { fill: "#ff6f0a" } },
  ];

  return {
    animation: false,
    backgroundColor: BG,
    grid: { left: 0, top: 0, width: PLOT_R, height: PLOT_B, containLabel: false },
    xAxis: {
      type: "value", min: 0, max: PLOT_R, position: "bottom", splitLine: { show: false },
      axisLine: { show: true, onZero: false, lineStyle: { color: "#000", width: 2 } },
      axisTick: { show: true, length: 6, inside: false, customValues: timeTickSlots, lineStyle: { color: "#000", width: 1 } },
      axisLabel: {
        show: true, customValues: timeLabelSlots, margin: 12, showMinLabel: true, showMaxLabel: true, hideOverlap: false,
        fontFamily: "Liberation Sans", fontSize: 10.5, color: "#0a0a1a",
        formatter: (v: number) => { const i = timeLabelSlots.indexOf(v); return i >= 0 ? timeLabels[i] : ""; },
      },
    },
    yAxis: {
      type: "value", min: P_BOT, max: P_TOP, position: "right", splitLine: { show: false },
      axisLine: { show: true, onZero: false, lineStyle: { color: "#000", width: 2 } },
      axisTick: { show: true, length: 6, customValues: priceTicks, lineStyle: { color: "#000", width: 1 } },
      axisLabel: {
        show: true, customValues: priceTicks, margin: 9, showMinLabel: true, showMaxLabel: true,
        fontFamily: "Liberation Sans", fontSize: 10.5, color: "#111",
        formatter: (v: number) => v.toFixed(2),
      },
    },
    graphic: chrome,
    series,
  };
}

export default function App() {
  const ref = useRef<HTMLDivElement>(null);
  useEffect(() => {
    document.body.style.margin = "0";
    document.body.style.background = BG;
    const chart = echarts.init(ref.current as HTMLDivElement, undefined, { renderer: "svg", width: W, height: H });
    chart.setOption(buildOption() as any);
    return () => chart.dispose();
  }, []);
  return <div ref={ref} style={{ position: "absolute", left: 0, top: 0, width: W, height: H, background: BG }} />;
}
